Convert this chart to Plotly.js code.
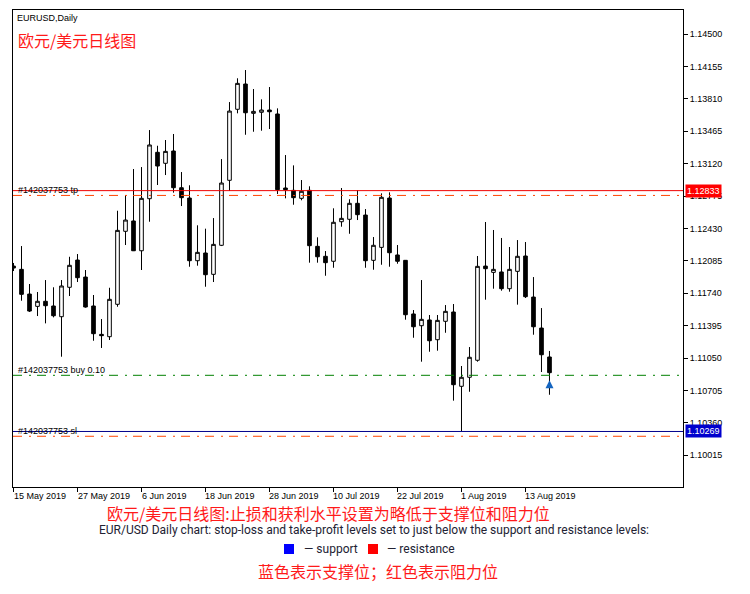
<!DOCTYPE html>
<html><head><meta charset="utf-8">
<script src="https://cdn.plot.ly/plotly-3.0.1.min.js"></script>
<style>html,body{margin:0;padding:0;background:#fff;}#chart{width:750px;height:594px;}</style>
</head><body><div id="chart"></div>
<script>
// Trading days (categories)
const dates = [
 '2019-05-15','2019-05-16','2019-05-17','2019-05-20','2019-05-21','2019-05-22','2019-05-23','2019-05-24',
 '2019-05-27','2019-05-28','2019-05-29','2019-05-30','2019-05-31','2019-06-03','2019-06-04','2019-06-05',
 '2019-06-06','2019-06-07','2019-06-10','2019-06-11','2019-06-12','2019-06-13','2019-06-14','2019-06-17',
 '2019-06-18','2019-06-19','2019-06-20','2019-06-21','2019-06-24','2019-06-25','2019-06-26','2019-06-27',
 '2019-06-28','2019-07-01','2019-07-02','2019-07-03','2019-07-04','2019-07-05','2019-07-08','2019-07-09',
 '2019-07-10','2019-07-11','2019-07-12','2019-07-15','2019-07-16','2019-07-17','2019-07-18','2019-07-19',
 '2019-07-22','2019-07-23','2019-07-24','2019-07-25','2019-07-26','2019-07-29','2019-07-30','2019-07-31',
 '2019-08-01','2019-08-02','2019-08-05','2019-08-06','2019-08-07','2019-08-08','2019-08-09','2019-08-12',
 '2019-08-13','2019-08-14','2019-08-15','2019-08-16'
];
const openP = [
 1.12030,1.11995,1.11732,1.11601,1.11655,1.11605,1.11491,1.11804,
 1.12094,1.11913,1.11605,1.11303,1.11278,1.11623,1.12400,1.12510,
 1.12193,1.12747,1.13241,1.13124,1.13255,1.12864,1.12754,1.12087,
 1.12169,1.11942,1.12251,1.12943,1.13699,1.13968,1.13656,1.13667,
 1.13691,1.13649,1.12861,1.12836,1.12751,1.12836,1.12240,1.12134,
 1.12081,1.12502,1.12528,1.12698,1.12573,1.12091,1.12229,1.12754,
 1.12148,1.12091,1.11520,1.11395,1.11456,1.11246,1.11442,1.11541,
 1.10750,1.10846,1.11027,1.12030,1.11963,1.11967,1.11789,1.11974,
 1.12137,1.11700,1.11370,1.11062
];
const highP = [
 1.12063,1.12243,1.11839,1.11754,1.11881,1.11804,1.11881,1.12129,
 1.12158,1.11988,1.11722,1.11466,1.11799,1.12619,1.12783,1.13063,
 1.13084,1.13478,1.13311,1.13372,1.13436,1.13031,1.12890,1.12464,
 1.12428,1.12541,1.13169,1.13776,1.14029,1.14117,1.13915,1.13805,
 1.13936,1.13709,1.13212,1.13102,1.12946,1.12879,1.12336,1.12190,
 1.12645,1.12861,1.12741,1.12839,1.12637,1.12339,1.12804,1.12815,
 1.12254,1.12094,1.11562,1.11881,1.11509,1.11509,1.11615,1.11626,
 1.10966,1.11168,1.12137,1.12499,1.12414,1.12329,1.12233,1.12307,
 1.12286,1.11913,1.11583,1.11126
];
const lowP = [
 1.11977,1.11661,1.11541,1.11498,1.11420,1.11484,1.11065,1.11711,
 1.11860,1.11587,1.11235,1.11158,1.11243,1.11597,1.12254,1.12190,
 1.11988,1.12502,1.12893,1.12999,1.12811,1.12669,1.12023,1.12034,
 1.11810,1.11860,1.12243,1.12829,1.13656,1.13428,1.13460,1.13471,
 1.13489,1.12797,1.12751,1.12683,1.12730,1.12066,1.12066,1.11927,
 1.12012,1.12449,1.12374,1.12520,1.12012,1.11991,1.12044,1.12023,
 1.12055,1.11459,1.11267,1.11012,1.11118,1.11129,1.11320,1.10597,
 1.10270,1.10692,1.11012,1.11672,1.11789,1.11768,1.11757,1.11619,
 1.11690,1.11299,1.10902,1.10660
];
const closeP = [
 1.12009,1.11729,1.11551,1.11655,1.11608,1.11501,1.11818,1.12038,
 1.11906,1.11594,1.11310,1.11289,1.11676,1.12410,1.12520,1.12193,
 1.12751,1.13319,1.13095,1.13251,1.12864,1.12758,1.12087,1.12176,
 1.11938,1.12261,1.12914,1.13680,1.13975,1.13662,1.13677,1.13691,
 1.13673,1.12843,1.12843,1.12758,1.12826,1.12247,1.12129,1.12066,
 1.12496,1.12538,1.12698,1.12577,1.12087,1.12251,1.12762,1.12172,
 1.12081,1.11512,1.11384,1.11463,1.11235,1.11452,1.11548,1.10767,
 1.10846,1.11059,1.12027,1.12002,1.11995,1.11789,1.11995,1.12134,
 1.11704,1.11384,1.11086,1.10895
];
const tickDates = ['2019-05-15','2019-05-27','2019-06-06','2019-06-18','2019-06-28','2019-07-10','2019-07-22','2019-08-01','2019-08-13'];
const tickLabels = ['15 May 2019','27 May 2019','6 Jun 2019','18 Jun 2019','28 Jun 2019','10 Jul 2019','22 Jul 2019','1 Aug 2019','13 Aug 2019'];
const priceTicks = [1.14500,1.14155,1.13810,1.13465,1.13120,1.12775,1.12430,1.12085,1.11740,1.11395,1.11050,1.10705,1.10360,1.10015];
const resistanceLevel = 1.12833;
const tpLevel = 1.12782;
const buyLevel = 1.10867;
const supportLevel = 1.10269;
const slLevel = 1.10218;
const arrowDates = ['2019-08-16'];
const arrowPrices = [1.10815];

const F = 'Liberation Sans, Arial, sans-serif';
const CJK = 'Noto Sans CJK SC, sans-serif';

const candles = {
  type:'candlestick', x:dates, open:openP, high:highP, low:lowP, close:closeP,
  increasing:{line:{color:'#000000',width:1}, fillcolor:'#ffffff'},
  decreasing:{line:{color:'#000000',width:1}, fillcolor:'#000000'},
  whiskerwidth:0, hoverinfo:'skip', showlegend:false
};
const arrow = {
  type:'scatter', mode:'markers', x:arrowDates, y:arrowPrices,
  marker:{symbol:'arrow-up', size:8, color:'#1565c0'}, hoverinfo:'skip', showlegend:false
};

function hline(y, color, dash){
  return {type:'line', xref:'paper', x0:0, x1:1, yref:'y', y0:y, y1:y, layer:'above',
          line:{color:color, width:1, dash:dash||'solid'}};
}
const DD = '9px,7px,2px,6px';
const shapes = [
  hline(resistanceLevel,'#ee0000'),
  hline(tpLevel,'#ff4500',DD),
  hline(buyLevel,'#008000',DD),
  hline(supportLevel,'#00008b'),
  hline(slLevel,'#ff4500',DD),
  // legend squares
  {type:'rect', xref:'paper', yref:'paper', x0:(284-13)/670, x1:(294-13)/670, y0:(487-554)/477, y1:(487-544)/477, fillcolor:'#0000ff', line:{width:0}},
  {type:'rect', xref:'paper', yref:'paper', x0:(368-13)/670, x1:(378-13)/670, y0:(487-554)/477, y1:(487-544)/477, fillcolor:'#ff0000', line:{width:0}}
];

const ann = [];
tickDates.forEach((d,i)=>ann.push({x:d, xref:'x', y:0, yref:'paper', xanchor:'left', yanchor:'top',
  xshift:-2, yshift:-2, text:tickLabels[i], showarrow:false, font:{family:F, size:9, color:'#000'}}));
// level labels
[[tpLevel,'#142037753 tp'],[buyLevel,'#142037753 buy 0.10'],[slLevel,'#142037753 sl']].forEach(p=>
  ann.push({x:0, xref:'paper', y:p[0], yref:'y', xanchor:'left', yanchor:'bottom', xshift:3, yshift:-2,
    text:p[1], showarrow:false, font:{family:F, size:9, color:'#000'}}));
// price boxes
[[resistanceLevel,'#ff0000'],[supportLevel,'#0000cd']].forEach(p=>
  ann.push({x:1, xref:'paper', y:p[0], yref:'y', xanchor:'left', yanchor:'middle', xshift:2,
    text:p[0].toFixed(5), showarrow:false, bgcolor:p[1], borderpad:1,
    font:{family:F, size:9, color:'#ffffff'}}));
// titles
ann.push({x:0, xref:'paper', y:1, yref:'paper', xanchor:'left', yanchor:'middle', xshift:2, yshift:-7.5,
  text:'EURUSD,Daily', showarrow:false, font:{family:F, size:9, color:'#000'}});
ann.push({x:0, xref:'paper', y:1, yref:'paper', xanchor:'left', yanchor:'middle', xshift:3, yshift:-30,
  text:'欧元/美元日线图', showarrow:false, font:{family:CJK, size:16, color:'#ff1a1a'}});
// captions
const px = v => (v-13)/670;
ann.push({x:px(328), xref:'paper', y:0, yref:'paper', xanchor:'center', yanchor:'middle', yshift:-26,
  text:'欧元/美元日线图:止损和获利水平设置为略低于支撑位和阻力位', showarrow:false, font:{family:CJK, size:16, color:'#ff1a1a'}});
ann.push({x:px(374), xref:'paper', y:0, yref:'paper', xanchor:'center', yanchor:'middle', yshift:-43,
  text:'EUR/USD Daily chart: stop-loss and take-profit levels set to just below the support and resistance levels:', showarrow:false, font:{family:'Roboto, sans-serif', size:12, color:'#222233'}});
ann.push({x:px(302), xref:'paper', y:0, yref:'paper', xanchor:'left', yanchor:'middle', yshift:-62,
  text:'— support', showarrow:false, font:{family:'Roboto, sans-serif', size:12, color:'#222233'}});
ann.push({x:px(385), xref:'paper', y:0, yref:'paper', xanchor:'left', yanchor:'middle', yshift:-62,
  text:'— resistance', showarrow:false, font:{family:'Roboto, sans-serif', size:12, color:'#222233'}});
ann.push({x:px(378), xref:'paper', y:0, yref:'paper', xanchor:'center', yanchor:'middle', yshift:-84,
  text:'蓝色表示支撑位；红色表示阻力位', showarrow:false, font:{family:CJK, size:16, color:'#ff1a1a'}});

const layout = {
  width:750, height:594, autosize:false,
  margin:{l:13, r:67, t:10, b:107, pad:0},
  paper_bgcolor:'#ffffff', plot_bgcolor:'#ffffff',
  showlegend:false, boxgap:0.35,
  xaxis:{type:'category', categoryorder:'array', categoryarray:dates, range:[-0.0625, 83.69],
    rangeslider:{visible:false}, showgrid:false, zeroline:false, showline:true, mirror:true,
    linecolor:'#000', linewidth:1, ticks:'outside', ticklen:4, tickcolor:'#000',
    tickmode:'array', tickvals:tickDates, showticklabels:false},
  yaxis:{side:'right', range:[1.09678,1.14756], showgrid:false, zeroline:false, showline:true, mirror:true,
    linecolor:'#000', linewidth:1, ticks:'outside', ticklen:4, tickcolor:'#000',
    tickmode:'array', tickvals:priceTicks, ticktext:priceTicks.map(v=>v.toFixed(5)),
    tickfont:{family:F, size:9, color:'#000'}},
  shapes:shapes, annotations:ann
};
Plotly.newPlot('chart',[candles,arrow],layout,{staticPlot:true, displayModeBar:false});
</script></body></html>
